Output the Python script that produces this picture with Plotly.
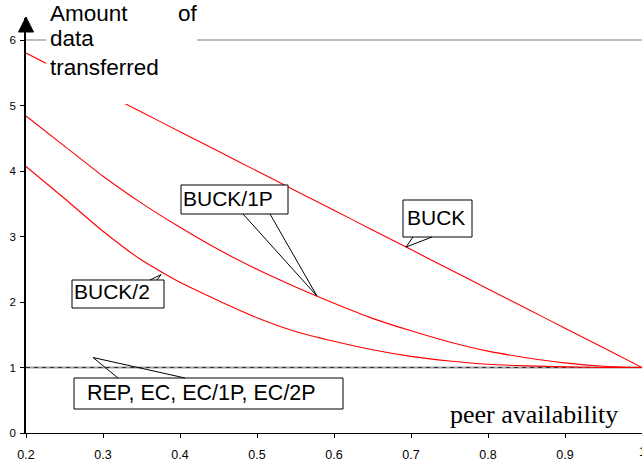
import numpy as np
import plotly.graph_objects as go

# ---- data -------------------------------------------------------------
p = [0.20, 0.25, 0.30, 0.35, 0.40, 0.45, 0.50, 0.55, 0.60,
     0.65, 0.70, 0.75, 0.80, 0.85, 0.90, 0.95, 1.00]
buck = [5.80, 5.50, 5.20, 4.90, 4.60, 4.30, 4.00, 3.70, 3.40,
        3.10, 2.80, 2.50, 2.20, 1.90, 1.60, 1.30, 1.00]
buck_1p = [4.84, 4.38, 3.92, 3.51, 3.14, 2.80, 2.50, 2.23, 1.98,
           1.75, 1.56, 1.39, 1.25, 1.15, 1.07, 1.02, 1.00]
buck_2 = [4.07, 3.58, 3.08, 2.64, 2.30, 2.02, 1.76, 1.55, 1.40,
          1.27, 1.17, 1.10, 1.05, 1.025, 1.01, 1.00, 1.00]
rep_p = [0.2, 1.0]
rep = [1.0, 1.0]

x_ticks = [0.2, 0.3, 0.4, 0.5, 0.6, 0.7, 0.8, 0.9, 1.0]
x_tick_text = ["0.2", "0.3", "0.4", "0.5", "0.6", "0.7", "0.8", "0.9", "1"]
y_ticks = [0, 1, 2, 3, 4, 5, 6]

# ---- geometry -----------------------------------------------------------
W, H = 642, 463
L, R, T, B = 26, 0, 18, 30
PW, PH = W - L - R, H - T - B
X0, X1 = 0.2, 1.0
Y0, Y1 = 0.0, 6.336


def dx(px):
    return X0 + (px - L) / PW * (X1 - X0)


def dy(py):
    return Y0 + (T + PH - py) / PH * (Y1 - Y0)


def fx(px):
    return (px - L) / PW


def fy(py):
    return (T + PH - py) / PH


RED = "#ff0000"
SANS = "Liberation Sans, Arial, sans-serif"
SERIF = "Liberation Serif, Times New Roman, serif"

fig = go.Figure()

# reference level for the replication / erasure-code schemes
fig.add_trace(go.Scatter(x=rep_p, y=rep, mode="lines",
                         line=dict(color="#a0a0a0", width=2.2),
                         hoverinfo="skip", showlegend=False))
fig.add_trace(go.Scatter(x=rep_p, y=rep, mode="lines",
                         line=dict(color="#333333", width=1, dash="4px,4px"),
                         hoverinfo="skip", showlegend=False))

for ys in (buck, buck_1p, buck_2):
    fig.add_trace(go.Scatter(x=p, y=ys, mode="lines",
                             line=dict(color=RED, width=1.1, shape="spline",
                                       smoothing=0.5),
                             hoverinfo="skip", showlegend=False))

shapes = []
# top rule at y = 6
shapes.append(dict(type="line", xref="x", yref="y", x0=X0, x1=X1, y0=6, y1=6,
                   line=dict(color="#a8a8a8", width=1.5), layer="below"))

# white panel behind the axis title
shapes.append(dict(type="rect", xref="paper", yref="paper",
                   x0=fx(46), x1=fx(197), y0=fy(104), y1=fy(-5),
                   fillcolor="white", line=dict(width=0), layer="above"))

# upward arrow head capping the y axis
shapes.append(dict(type="path", xref="paper", yref="paper",
                   path=(f"M {fx(18.5)},{fy(32)} L {fx(33.5)},{fy(32)} "
                         f"L {fx(26)},{fy(17)} Z"),
                   fillcolor="black", line=dict(color="black", width=1),
                   layer="above"))


def callout(box, tip, base, label, size=21, text_x=None, text_y=None):
    """Box (px) with a wedge pointer running from base points on the box to tip."""
    x0, y0, x1, y1 = box
    shapes.append(dict(type="rect", xref="x", yref="y",
                       x0=dx(x0), x1=dx(x1), y0=dy(y1), y1=dy(y0),
                       fillcolor="white", line=dict(color="black", width=1),
                       layer="above"))
    (bx0, by0), (bx1, by1) = base
    tx, ty = tip
    shapes.append(dict(type="path", xref="x", yref="y",
                       path=f"M {dx(bx0)},{dy(by0)} L {tx},{ty} L {dx(bx1)},{dy(by1)}",
                       line=dict(color="black", width=1), layer="above"))
    fig.add_annotation(x=dx(text_x if text_x is not None else x0 + 2),
                       y=dy(text_y if text_y is not None else (y0 + y1) / 2),
                       xref="x", yref="y", text=label, showarrow=False,
                       xanchor="left", yanchor="middle",
                       font=dict(family=SANS, size=size, color="black"))


# BUCK/1P callout: tip on the BUCK/1P curve
t1x = dx(317)
callout((181, 185, 288, 214), (t1x, float(np.interp(t1x, p, buck_1p))),
        ((243, 214), (270, 214)), "BUCK/1P", text_x=181, text_y=198)

# BUCK callout: tip on the BUCK curve
t2x = dx(406)
callout((403, 200, 472, 237), (t2x, float(np.interp(t2x, p, buck))),
        ((413, 237), (432, 237)), "BUCK", text_x=405, text_y=217)

# BUCK/2 callout: small wedge towards the BUCK/2 curve
t3x = dx(161)
callout((72, 280, 164, 308), (t3x, float(np.interp(t3x, p, buck_2)) - 0.05),
        ((150, 280), (157, 280)), "BUCK/2", text_x=72, text_y=291)

# REP / EC callout: tip just above the reference level
t4x = dx(93)
callout((74, 378, 343, 409), (t4x, 1.0 + 10 / (PH / (Y1 - Y0))),
        ((118, 378), (185, 378)), "REP, EC, EC/1P, EC/2P",
        size=21.5, text_x=85, text_y=393)

# y-axis title, set as a justified block
for txt, px, py in [("Amount", 48, 13), ("of", 176, 13),
                    ("data", 48, 38), ("transferred", 48, 67)]:
    fig.add_annotation(x=fx(px), y=fy(py), xref="paper", yref="paper",
                       text=txt, showarrow=False, xanchor="left",
                       yanchor="middle",
                       font=dict(family=SANS, size=22.5, color="black"))

# x-axis title inside the plot area
fig.add_annotation(x=dx(534), y=dy(414), xref="x", yref="y",
                   text="peer availability", showarrow=False,
                   xanchor="center", yanchor="middle",
                   font=dict(family=SERIF, size=26, color="black"))

# last x tick label sits on the right edge of the figure
fig.add_annotation(x=x_ticks[-1], y=fy(452), xref="x", yref="paper",
                   text=x_tick_text[-1], showarrow=False,
                   xanchor="center", yanchor="middle",
                   font=dict(family=SANS, size=12.5, color="black"))

fig.update_layout(
    width=W, height=H,
    margin=dict(l=L, r=R, t=T, b=B, pad=0),
    paper_bgcolor="white", plot_bgcolor="white",
    shapes=shapes,
    showlegend=False,
    xaxis=dict(range=[X0, X1], tickvals=x_ticks, ticktext=x_tick_text,
               showgrid=False, zeroline=False, showline=True,
               linecolor="black", linewidth=1.2,
               ticks="outside", ticklen=4, tickcolor="black", tickwidth=1,
               tickfont=dict(family=SANS, size=12.5, color="black"),
               ticklabelstandoff=6),
    yaxis=dict(range=[Y0, Y1], tickvals=y_ticks,
               showgrid=False, zeroline=False, showline=True,
               linecolor="black", linewidth=1.5,
               ticks="outside", ticklen=4, tickcolor="black", tickwidth=1,
               tickfont=dict(family=SANS, size=11.5, color="black"),
               ticklabelstandoff=2),
)

fig.write_html("out.html")
